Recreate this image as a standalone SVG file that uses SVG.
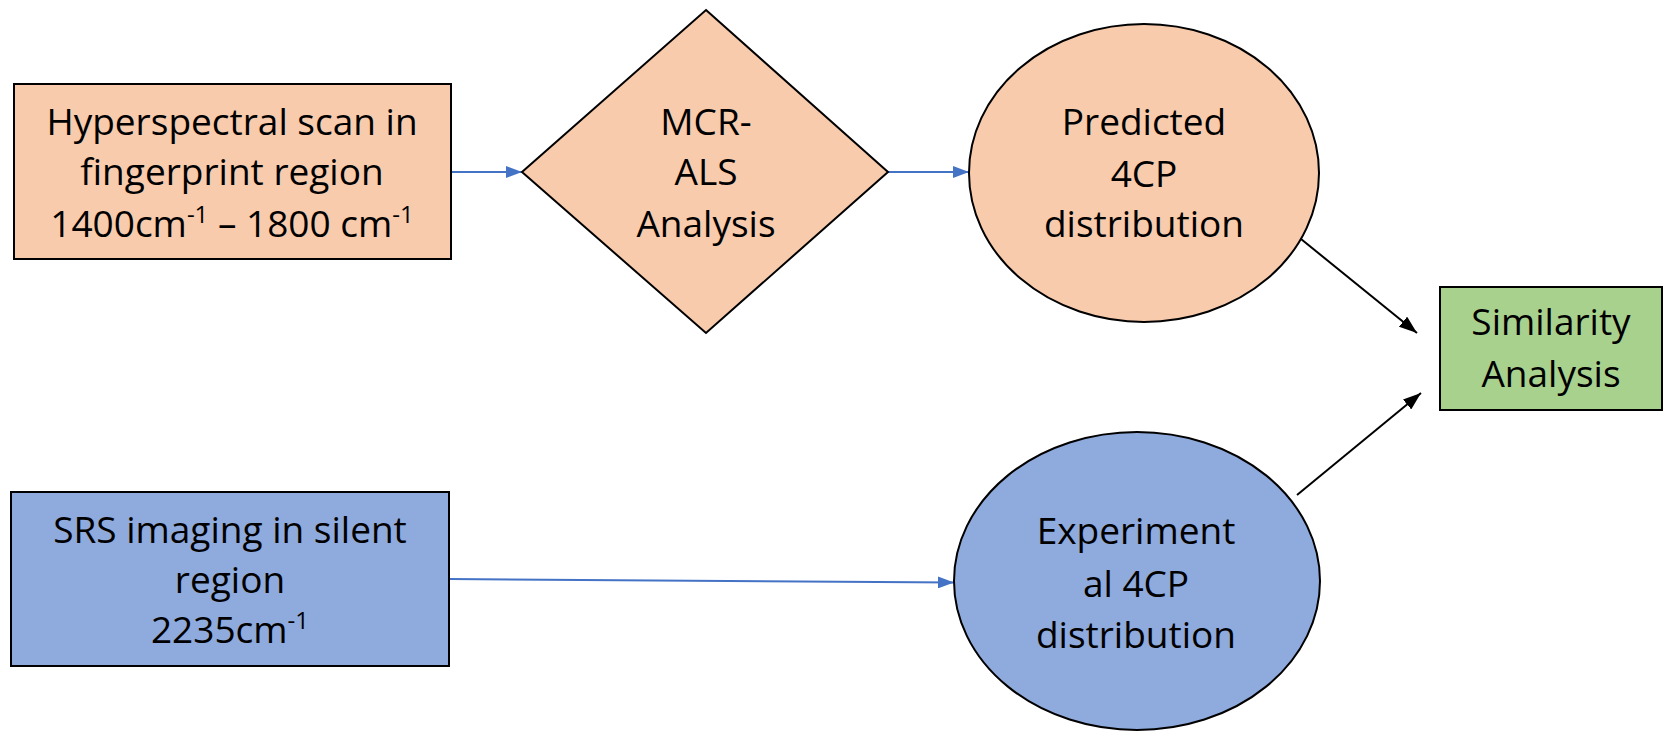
<svg xmlns="http://www.w3.org/2000/svg" width="1665" height="735" viewBox="0 0 1665 735">
<style>
.shape{stroke:#000;stroke-width:2}
.peach{fill:#F8CBAD}
.blue{fill:#8FAADC}
.green{fill:#A9D18E}
text{font-family:"Open Sans","Liberation Sans",sans-serif;font-size:37px;fill:#000;text-anchor:middle}
.sup{font-size:24px}
.cb{stroke:#4472C4;stroke-width:2;fill:none}
.ck{stroke:#000;stroke-width:2;fill:none}
</style>
<defs>
<marker id="ab" markerWidth="16" markerHeight="12" refX="16" refY="6" orient="auto" markerUnits="userSpaceOnUse" viewBox="0 0 16 12"><path d="M0,0 L16,6 L0,12 z" fill="#4472C4"/></marker>
<marker id="ak" markerWidth="18" markerHeight="13" refX="18" refY="6.5" orient="auto" markerUnits="userSpaceOnUse" viewBox="0 0 18 13"><path d="M0,0 L18,6.5 L0,13 z" fill="#000"/></marker>
</defs>
<g id="connectors">
<line class="cb" x1="451" y1="172" x2="522" y2="172" marker-end="url(#ab)"/>
<line class="cb" x1="888" y1="172" x2="969" y2="172" marker-end="url(#ab)"/>
<line class="cb" x1="449" y1="579" x2="954" y2="582.5" marker-end="url(#ab)"/>
<line class="ck" x1="1301" y1="239" x2="1417" y2="333" marker-end="url(#ak)"/>
<line class="ck" x1="1297" y1="495" x2="1421" y2="393" marker-end="url(#ak)"/>
</g>
<g id="hyperspectral">
<rect class="shape peach" x="14" y="84" width="437" height="175"/>
<text x="232" y="135">Hyperspectral scan in</text>
<text x="232" y="185">fingerprint region</text>
<text x="232" y="237">1400cm<tspan class="sup" dy="-14">-1</tspan><tspan dy="14"> – 1800 cm</tspan><tspan class="sup" dy="-14">-1</tspan></text>
</g>
<g id="mcr">
<polygon class="shape peach" points="706,10 888,172 706,333 522,172"/>
<text x="706" y="135">MCR-</text>
<text x="706" y="185">ALS</text>
<text x="706" y="237">Analysis</text>
</g>
<g id="predicted">
<ellipse class="shape peach" cx="1144" cy="173" rx="175" ry="149"/>
<text x="1144" y="135">Predicted</text>
<text x="1144" y="187">4CP</text>
<text x="1144" y="237">distribution</text>
</g>
<g id="similarity">
<rect class="shape green" x="1440" y="287" width="222" height="123"/>
<text x="1551" y="335">Similarity</text>
<text x="1551" y="387">Analysis</text>
</g>
<g id="srs">
<rect class="shape blue" x="11" y="492" width="438" height="174"/>
<text x="230" y="543">SRS imaging in silent</text>
<text x="230" y="593">region</text>
<text x="230" y="643">2235cm<tspan class="sup" dy="-14">-1</tspan></text>
</g>
<g id="experimental">
<ellipse class="shape blue" cx="1137" cy="581" rx="183" ry="149"/>
<text x="1136" y="544">Experiment</text>
<text x="1136" y="597">al 4CP</text>
<text x="1136" y="648">distribution</text>
</g>
</svg>
